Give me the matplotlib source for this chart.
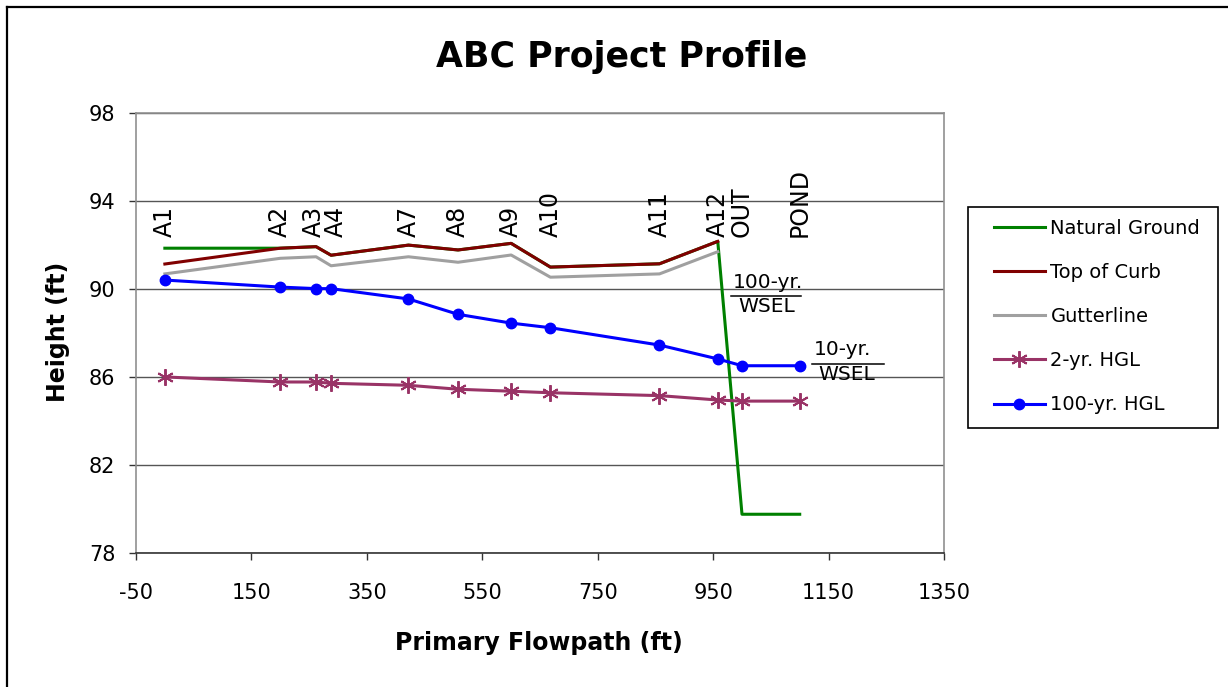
import matplotlib
matplotlib.use("Agg")
import matplotlib.pyplot as plt
from matplotlib.lines import Line2D
from matplotlib.patches import Rectangle

# ---------------- data ----------------
nodes = ['A1', 'A2', 'A3', 'A4', 'A7', 'A8', 'A9', 'A10', 'A11', 'A12', 'OUT', 'POND']
station = [0, 200, 262, 288, 422, 508, 600, 668, 857, 958, 1000, 1100]

natural_ground = [91.86, 91.86, 91.93, 91.54, 92.00, 91.78, 92.08, 91.00, 91.15, 92.17, 79.75, 79.75]
top_of_curb = [91.14, 91.86, 91.93, 91.54, 92.00, 91.78, 92.08, 91.00, 91.15, 92.17]
gutterline = [90.69, 91.40, 91.47, 91.06, 91.47, 91.22, 91.55, 90.54, 90.69, 91.70]
hgl_2yr = [86.00, 85.77, 85.77, 85.71, 85.62, 85.44, 85.35, 85.28, 85.15, 84.95, 84.90, 84.90]
hgl_100yr = [90.41, 90.09, 90.02, 90.02, 89.55, 88.85, 88.45, 88.24, 87.45, 86.82, 86.51, 86.51]

node_label_y = 92.38

x_ticks = list(range(-50, 1351, 200))
y_ticks = list(range(78, 99, 4))

title = 'ABC Project Profile'
xlabel = 'Primary Flowpath (ft)'
ylabel = 'Height (ft)'

# ---------------- figure ----------------
plt.rcParams['font.family'] = ['DejaVu Sans']
plt.rcParams['axes.unicode_minus'] = False

W, H = 1228, 687
fig = plt.figure(figsize=(W / 100, H / 100), dpi=100)

ax = fig.add_axes([136 / W, 1 - 552.7 / H, (944 - 136) / W, (552.7 - 113.3) / H])

lw = 2.2
ax.plot(station, natural_ground, color='#008000', lw=lw, label='Natural Ground', zorder=3)
ax.plot(station[:len(top_of_curb)], top_of_curb, color='#800000', lw=lw, label='Top of Curb', zorder=4)
ax.plot(station[:len(gutterline)], gutterline, color='#A0A0A0', lw=lw, label='Gutterline', zorder=4)
ax.plot(station, hgl_2yr, color='#993366', lw=lw, marker=(6, 2, 0), ms=12, mew=1.4,
        label='2-yr. HGL', zorder=4)
ax.plot(station, hgl_100yr, color='#0000FF', lw=lw, marker='o', ms=7.5,
        label='100-yr. HGL', zorder=5)

ax.set_xlim(-50, 1350)
ax.set_ylim(78, 98)
ax.set_xticks(x_ticks)
ax.set_yticks(y_ticks)
ax.tick_params(axis='both', direction='out', length=5, width=1, color='#333333', labelsize=15)
ax.tick_params(axis='x', pad=17)
ax.tick_params(axis='y', pad=10)
ax.yaxis.grid(True, color='#555555', lw=1.0)
ax.set_axisbelow(True)
for s in ['left', 'right', 'top']:
    ax.spines[s].set_color('#909090')
    ax.spines[s].set_linewidth(1.2)
ax.spines['bottom'].set_color('#333333')
ax.spines['bottom'].set_linewidth(1.2)

# node labels (small pixel nudges where labels crowd)
label_nudge = {'A3': -2, 'A4': 5}
for name, xs in zip(nodes, station):
    ax.annotate(name, (xs, node_label_y), xytext=(label_nudge.get(name, 0) * 0.72, 0),
                textcoords='offset points', rotation=90, ha='center', va='bottom', fontsize=17)

# WSEL annotations
ax.text(1045, 90.32, '100-yr.', ha='center', va='center', fontsize=14.5)
ax.plot([981, 1102], [89.7, 89.7], color='black', lw=1.1, clip_on=False)
ax.text(1042, 89.2, 'WSEL', ha='center', va='center', fontsize=14.5)
ax.text(1175, 87.23, '10-yr.', ha='center', va='center', fontsize=14.5)
ax.plot([1121, 1246], [86.59, 86.59], color='black', lw=1.1, clip_on=False)
ax.text(1181, 86.09, 'WSEL', ha='center', va='center', fontsize=14.5)

# titles
fig.text(621.5 / W, 1 - 66.7 / H, title, ha='center', va='baseline', fontsize=25, fontweight='bold')
fig.text(539 / W, 1 - 650 / H, xlabel, ha='center', va='baseline', fontsize=17, fontweight='bold')
fig.text(58 / W, 1 - 331.5 / H, ylabel, ha='center', va='center', rotation=90, fontsize=17,
         fontweight='bold')

# legend
fig.patches.append(Rectangle((968 / W, 1 - 428 / H), (1218 - 968) / W, (428 - 207) / H,
                             transform=fig.transFigure, fill=False, edgecolor='black', lw=1.2))
fig.legend(*ax.get_legend_handles_labels(), loc='upper left',
           bbox_to_anchor=(994 / W, 1 - 219 / H), bbox_transform=fig.transFigure,
           frameon=False, borderpad=0, borderaxespad=0, fontsize=14,
           handlelength=2.6, handletextpad=0.3, labelspacing=1.29)

# outer border
fig.add_artist(Line2D([7 / W, 7 / W], [0, 1 - 7 / H], transform=fig.transFigure, color='black', lw=1.6))
fig.add_artist(Line2D([7 / W, 1], [1 - 7 / H, 1 - 7 / H], transform=fig.transFigure, color='black', lw=1.6))

fig.savefig('out.png', dpi=100)
